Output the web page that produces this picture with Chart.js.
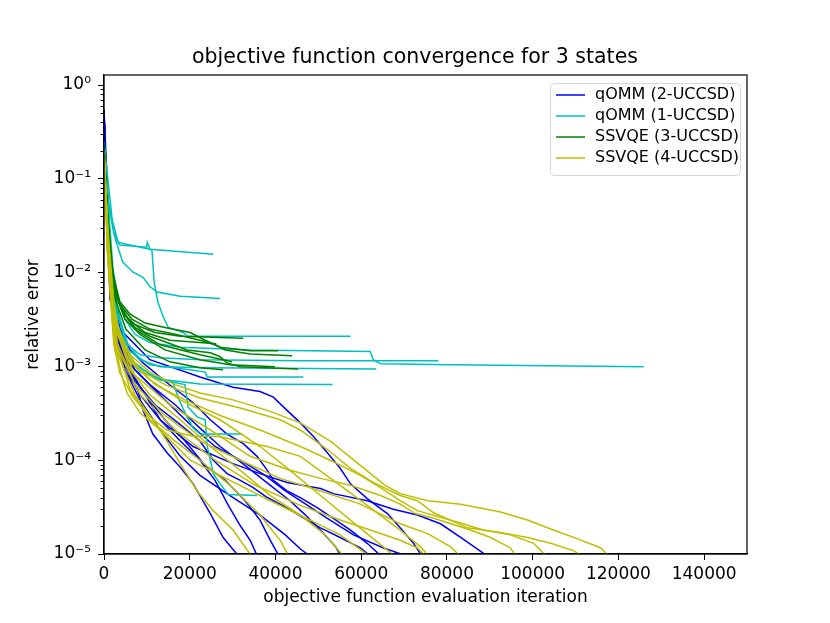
<!DOCTYPE html>
<html>
<head>
<meta charset="utf-8">
<script src="https://cdn.jsdelivr.net/npm/chart.js@4.4.1/dist/chart.umd.min.js"></script>
<style>
  html, body { margin: 0; padding: 0; background: #fff; }
  canvas { display: block; }
</style>
</head>
<body>
<canvas id="convChart" width="830" height="623"></canvas>
<script>
const chartTitle = 'objective function convergence for 3 states';
const methodNames = ['qOMM (2-UCCSD)', 'qOMM (1-UCCSD)', 'SSVQE (3-UCCSD)', 'SSVQE (4-UCCSD)'];
const methodColors = ['#0000ff', '#00bfbf', '#008000', '#bfbf00'];
const xTicks = [0, 20000, 40000, 60000, 80000, 100000, 120000, 140000];
const yRange = [1e-5, 1.28];

// each run is a list of [evaluation, relative error]
const qomm2Runs = [
  [[0,0.55],[500,0.061],[1400,0.0066],[2800,0.0019],[4700,0.00092],[7700,0.0006],[9100,0.00034],[11400,0.00019],[14700,0.00012],[17800,8.4e-5],[20800,5.6e-5],[24800,2.7e-5],[27800,1.5e-5],[31800,9e-6]],
  [[0,0.5],[700,0.037],[1900,0.004],[4200,0.00118],[8400,0.0005],[13100,0.00027],[17800,0.00016],[22400,1e-4],[25900,6.1e-5],[29000,3.3e-5],[31800,2e-5],[34100,1.4e-5],[36000,9e-6]],
  [[0,0.45],[900,0.023],[2300,0.0032],[4900,0.00104],[9600,0.0005],[14200,0.00027],[18900,0.00016],[23600,8.8e-5],[28300,6.1e-5],[32900,3.7e-5],[36400,2.3e-5],[38800,1.4e-5],[41100,9e-6]],
  [[0,0.55],[700,0.029],[2100,0.0032],[4900,0.00118],[10700,0.00064],[16600,0.00039],[22400,0.00022],[27100,0.00014],[32900,8.8e-5],[38800,5.4e-5],[43400,3.7e-5],[47000,2.6e-5],[50500,1.8e-5],[54000,1.2e-5],[55600,9e-6]],
  [[0,0.5],[900,0.023],[2600,0.0032],[6100,0.0015],[9100,0.00109],[14700,0.00067],[20800,0.00041],[24800,0.00027],[28700,0.00019],[32500,0.00015],[35700,0.00011],[38100,7.8e-5],[39500,6.1e-5],[42700,4.7e-5],[45800,4e-5],[49800,3.1e-5],[53500,2.4e-5],[57500,1.8e-5],[61400,1.3e-5],[65200,9e-6]],
  [[0,0.45],[900,0.0178],[2600,0.0025],[6100,0.00081],[11900,0.00039],[17800,0.00024],[22400,0.00016],[25500,1e-4],[28700,7.2e-5],[31800,6.1e-5],[34800,5.1e-5],[38100,4e-5],[42700,3.1e-5],[47400,2.3e-5],[50500,1.9e-5],[55100,1.5e-5],[59800,1.16e-5],[62800,9e-6]],
  [[0,0.55],[1400,0.0178],[3700,0.0025],[10700,0.00118],[22400,0.00077],[30100,0.0006],[36400,0.00054],[39500,0.00047],[42700,0.00034],[45800,0.00025],[48800,0.00018],[52100,0.00012],[55100,8.2e-5],[57500,5.6e-5],[61400,3.9e-5],[66100,2.7e-5],[69100,1.9e-5],[72200,1.3e-5],[74500,9e-6]],
  [[0,0.5],[900,0.029],[2800,0.0025],[7200,0.00092],[14200,0.00044],[20100,0.00024],[25900,0.00014],[31800,1e-4],[37600,6.9e-5],[42300,4.7e-5],[45800,3.7e-5],[52100,2.4e-5],[58200,1.6e-5],[65200,1.16e-5],[72200,9e-6]],
  [[0,0.5],[1400,0.0052],[6100,0.00092],[13100,0.00027],[20800,0.00014],[30100,9.2e-5],[36400,7.2e-5],[42700,5.8e-5],[50500,5e-5],[53500,4.4e-5],[61400,3.7e-5],[67500,3e-5],[73100,2.6e-5],[78500,2.1e-5],[83200,1.5e-5],[90200,9e-6]],
  [[0,0.5],[700,0.037],[2100,0.004],[4900,0.00092],[8400,0.00044],[13100,0.00021],[17800,0.00011],[22400,6.9e-5],[29400,4.2e-5],[36400,2.6e-5],[42300,1.6e-5],[45800,1.13e-5],[48800,9e-6]]
];

const qomm1Runs = [
  [[0,0.25],[700,0.12],[1900,0.037],[3300,0.021],[10700,0.0178],[25500,0.0157]],
  [[0,0.25],[900,0.061],[2600,0.023],[4400,0.0129],[6800,0.0101],[9100,0.0089],[10700,0.0071],[12400,0.0062],[17800,0.0056],[27100,0.0053]],
  [[0,0.22],[900,0.061],[2300,0.026],[3700,0.0197],[10000,0.0187],[10100,0.021],[10700,0.018],[11200,0.017],[11700,0.0079],[12600,0.0048],[13800,0.0034],[15000,0.0026],[18500,0.0023],[19400,0.0021],[57500,0.0021]],
  [[0,0.25],[900,0.061],[2100,0.0109],[3300,0.0052],[4900,0.0032],[7200,0.0022],[10700,0.0018],[17800,0.0016],[34100,0.0015],[62100,0.00144],[62800,0.00118],[64500,0.00107],[80800,0.00104],[125900,0.00099]],
  [[0,0.22],[900,0.048],[2300,0.0066],[3700,0.0032],[5600,0.0017],[8400,0.00133],[13100,0.00124],[22400,0.00118],[45800,0.00115],[78000,0.00115]],
  [[0,0.22],[900,0.037],[2600,0.0052],[4900,0.0019],[8400,0.00118],[13100,0.00099],[24800,0.00097],[63500,0.00094]],
  [[0,0.22],[900,0.029],[2800,0.004],[5600,0.0015],[10700,0.00104],[20100,0.00092],[23600,0.00087],[24100,0.00077],[46500,0.00077]],
  [[0,0.22],[900,0.023],[2800,0.0032],[5100,0.00133],[8400,0.00087],[14200,0.00072],[22400,0.00065],[53300,0.00064]],
  [[0,0.22],[900,0.029],[2800,0.0032],[6100,0.00118],[11900,0.00075],[16100,0.00067],[17800,0.00041],[19400,0.00029],[20800,0.00022],[22400,0.00019],[32200,0.00019]],
  [[0,0.22],[900,0.023],[3300,0.0025],[7200,0.00104],[13100,0.00072],[18900,0.00064],[19600,0.00037],[21700,0.00029],[23600,0.00027],[24100,0.00014],[25500,7.2e-5],[27100,5.6e-5],[29000,4.3e-5],[35700,4.2e-5]]
];

const ssvqe3Runs = [
  [[0,0.22],[700,0.048],[1600,0.0139],[2800,0.0059],[4700,0.0036],[7200,0.0028],[11900,0.0023],[17800,0.0021],[32500,0.002]],
  [[0,0.2],[700,0.042],[1900,0.0109],[3300,0.0052],[5600,0.0032],[9600,0.0023],[15400,0.0019],[26200,0.00175]],
  [[0,0.22],[900,0.037],[2100,0.0085],[3700,0.0046],[6500,0.0032],[10700,0.0025],[16600,0.0022],[22400,0.0019],[25900,0.0017],[28300,0.0015],[34100,0.00136],[43900,0.0013]],
  [[0,0.22],[900,0.037],[2100,0.0096],[3700,0.0049],[6100,0.0036],[9600,0.0029],[14200,0.0026],[20100,0.0023],[23600,0.0019],[27100,0.0016],[34100,0.00147],[40600,0.00147]],
  [[0,0.2],[900,0.033],[2300,0.0075],[4200,0.004],[7200,0.0025],[13100,0.0017],[22400,0.00133],[29900,0.00112]],
  [[0,0.2],[900,0.033],[2300,0.0075],[4200,0.0039],[7200,0.0026],[10700,0.0021],[14700,0.0018],[19400,0.0015],[24800,0.0014],[27100,0.00127],[28700,0.00109],[31800,0.00099],[45300,0.00094]],
  [[0,0.2],[900,0.029],[2600,0.0059],[4900,0.0032],[8400,0.0022],[14200,0.0015],[22400,0.00118],[29400,0.00104],[39900,0.00099]],
  [[0,0.2],[900,0.026],[2600,0.0052],[5100,0.0025],[9600,0.0015],[15400,0.00112],[22400,0.00097],[27800,0.00092]]
];

const ssvqe4Runs = [
  [[0,0.2],[500,0.061],[1400,0.0085],[3300,0.0025],[6100,0.00133],[10700,0.00087],[16600,0.00064],[22400,0.00052],[30100,0.00044],[38100,0.00034],[45800,0.00025],[52800,0.00016],[59800,8.8e-5],[65600,5.4e-5],[69100,4.4e-5],[75500,3.7e-5],[83200,3.4e-5],[92500,2.8e-5],[98800,2.3e-5],[104200,1.85e-5],[110500,1.45e-5],[115900,1.16e-5],[118200,9e-6]],
  [[0,0.18],[700,0.037],[1900,0.0052],[4200,0.0017],[8400,0.00092],[14200,0.00064],[22400,0.00046],[31800,0.00036],[41100,0.00027],[45800,0.00021],[52100,0.00013],[57500,8.2e-5],[62800,5.8e-5],[69100,4.2e-5],[73100,3.7e-5],[76900,2.75e-5],[80800,2.3e-5],[84800,1.9e-5],[92500,1.7e-5],[98800,1.5e-5],[104200,1.3e-5],[109600,1.08e-5],[112400,9e-6]],
  [[0,0.18],[900,0.029],[2600,0.0032],[6100,0.00118],[11900,0.00064],[18900,0.00044],[27100,0.0003],[36400,0.00021],[45800,0.00014],[52800,1e-4],[59800,6.9e-5],[64500,5.1e-5],[69100,3.7e-5],[73100,2.9e-5],[80800,2.3e-5],[88500,1.8e-5],[94800,1.6e-5],[100200,1.3e-5],[103700,9e-6]],
  [[0,0.2],[900,0.023],[2600,0.0025],[7200,0.00081],[15400,0.00039],[24800,0.00021],[34100,0.00011],[43400,7.8e-5],[50500,6.4e-5],[57500,5.4e-5],[64500,4.2e-5],[69100,3.4e-5],[72600,2.7e-5],[76900,2.4e-5],[84800,1.85e-5],[90200,1.5e-5],[94800,1.16e-5],[96500,9e-6]],
  [[0,0.18],[900,0.0178],[2800,0.0019],[7200,0.00064],[14200,0.0003],[22400,0.00016],[31800,1e-4],[41100,6.4e-5],[50500,4.7e-5],[59800,3.4e-5],[69100,2.1e-5],[75500,1.65e-5],[80800,1.2e-5],[83600,9e-6]],
  [[0,0.18],[900,0.0139],[3300,0.0015],[8400,0.0005],[16600,0.00021],[25900,1e-4],[35300,5.4e-5],[45800,3.3e-5],[55100,2.3e-5],[62100,1.8e-5],[69100,1.4e-5],[73100,1.16e-5],[75500,9e-6]],
  [[0,0.2],[700,0.029],[2300,0.0032],[5600,0.00118],[10700,0.00072],[17800,0.00044],[27100,0.00027],[36400,0.00014],[43400,7.8e-5],[50500,4.2e-5],[57500,2.3e-5],[63300,1.4e-5],[68400,9e-6]],
  [[0,0.18],[900,0.0139],[2800,0.0015],[7200,0.0005],[13100,0.00021],[20100,1e-4],[29400,6.1e-5],[38800,3.7e-5],[48100,2.3e-5],[55100,1.6e-5],[62600,9e-6]],
  [[0,0.18],[900,0.0139],[2300,0.0019],[4400,0.00072],[5400,0.00052],[8400,0.00032],[13100,0.00021],[17800,9.2e-5],[21700,4.7e-5],[25500,2.9e-5],[30100,1.8e-5],[34800,9e-6]],
  [[0,0.18],[900,0.0178],[2600,0.0019],[6100,0.00056],[10700,0.00027],[16600,0.00016],[22400,1e-4],[29400,5.4e-5],[36400,2.6e-5],[41100,1.4e-5],[43400,9e-6]],
  [[0,0.2],[900,0.023],[2800,0.0025],[6100,0.00092],[10700,0.0005],[17800,0.00027],[24800,0.00014],[31800,7.8e-5],[38800,4.2e-5],[45800,2.6e-5],[51600,1.6e-5],[56300,9e-6]],
  [[0,0.18],[900,0.0139],[2300,0.0017],[3700,0.00085],[6800,0.00047],[10700,0.00029],[14700,0.00021],[20800,0.00018],[26400,0.00018],[31800,0.00016],[38100,0.00014],[45800,0.00011],[53500,6.1e-5],[61400,3.3e-5],[69100,1.8e-5],[73800,1.2e-5],[76200,9e-6]]
];

const allRuns = [qomm2Runs, qomm1Runs, ssvqe3Runs, ssvqe4Runs];
const FONT = 'DejaVu Sans';

const sup = { '0': '\u2070', '1': '\u00b9', '2': '\u00b2', '3': '\u00b3', '4': '\u2074', '5': '\u2075', '-': '\u207b' };
function isDecade(v) {
  const e = Math.log10(v);
  return Math.abs(e - Math.round(e)) < 1e-9;
}
function decadeLabel(v) {
  const e = String(Math.round(Math.log10(v)));
  return '10' + e.split('').map(c => sup[c]).join('');
}

// log ticks: 1..9 x 10^k, labels only on the decades
function logTicks() {
  const ticks = [];
  for (let e = -5; e <= 0; e++) {
    for (let k = 1; k <= 9; k++) {
      const v = k * Math.pow(10, e);
      if (v <= yRange[1]) ticks.push({ value: v });
    }
  }
  return ticks;
}

const datasets = [];
allRuns.forEach((runs, g) => {
  runs.forEach(run => {
    datasets.push({
      label: methodNames[g],
      data: run.map(p => ({ x: p[0], y: p[1] })),
      borderColor: methodColors[g],
      borderWidth: 1.5,
      pointRadius: 0,
      tension: 0,
      fill: false,
      order: 4 - g
    });
  });
});

// figure title, centred on the canvas
const figTitle = {
  id: 'figTitle',
  afterDraw(chart) {
    const { ctx, chartArea } = chart;
    ctx.save();
    ctx.font = '20.5px "' + FONT + '"';
    ctx.fillStyle = '#000';
    ctx.textAlign = 'center';
    ctx.textBaseline = 'alphabetic';
    ctx.fillText(chartTitle, chart.width / 2, chartArea.top - 12);
    ctx.restore();
  }
};

const frameAndMinor = {
  id: 'frameAndMinor',
  afterDraw(chart) {
    const { ctx, chartArea } = chart;
    const y = chart.scales.y;
    ctx.save();
    ctx.strokeStyle = '#000';
    ctx.lineWidth = 1;
    y.ticks.forEach(t => {
      if (isDecade(t.value)) return;
      const py = Math.round(y.getPixelForValue(t.value)) + 0.5;
      ctx.beginPath();
      ctx.moveTo(chartArea.left, py);
      ctx.lineTo(chartArea.left - 3.5, py);
      ctx.stroke();
    });
    ctx.lineWidth = 1.2;
    ctx.strokeRect(chartArea.left, chartArea.top, chartArea.right - chartArea.left, chartArea.bottom - chartArea.top);
    ctx.restore();
  }
};

const legendBox = {
  id: 'legendBox',
  afterDraw(chart) {
    const { ctx, chartArea } = chart;
    const w = 190, h = 92;
    const x = chartArea.right - w - 7, y = chartArea.top + 8;
    ctx.save();
    ctx.beginPath();
    ctx.roundRect(x + 0.5, y + 0.5, w, h, 4);
    ctx.fillStyle = 'rgba(255,255,255,0.8)';
    ctx.fill();
    ctx.strokeStyle = '#d6d6d6';
    ctx.lineWidth = 1;
    ctx.stroke();
    ctx.font = '16px "' + FONT + '"';
    ctx.textBaseline = 'middle';
    ctx.fillStyle = '#000';
    methodNames.forEach((name, i) => {
      const ry = y + 12 + i * 21;
      ctx.strokeStyle = methodColors[i];
      ctx.lineWidth = 1.5;
      ctx.beginPath();
      ctx.moveTo(x + 6, ry);
      ctx.lineTo(x + 35, ry);
      ctx.stroke();
      ctx.fillText(name, x + 45, ry);
    });
    ctx.restore();
  }
};

new Chart(document.getElementById('convChart').getContext('2d'), {
  type: 'line',
  data: { datasets: datasets },
  options: {
    responsive: false,
    animation: false,
    devicePixelRatio: 1,
    layout: { padding: { left: 0, right: 83, top: 75, bottom: 0 } },
    plugins: {
      legend: { display: false },
      tooltip: { enabled: false },
      title: { display: false }
    },
    scales: {
      x: {
        type: 'linear',
        min: 0,
        max: 150000,
        afterBuildTicks: s => { s.ticks = xTicks.map(v => ({ value: v })); },
        afterFit: s => { s.height = 69; },
        grid: { drawOnChartArea: false, tickLength: 6, tickColor: '#000', tickWidth: 1 },
        border: { display: true, color: '#000', width: 1.2 },
        ticks: {
          color: '#000',
          font: { family: FONT, size: 17 },
          padding: 4,
          maxRotation: 0,
          autoSkip: false,
          callback: v => String(v)
        },
        title: {
          display: true,
          text: 'objective function evaluation iteration',
          color: '#000',
          font: { family: FONT, size: 17 },
          padding: { top: 0, bottom: 15 }
        }
      },
      y: {
        type: 'logarithmic',
        min: yRange[0],
        max: yRange[1],
        afterBuildTicks: s => { s.ticks = logTicks(); },
        afterFit: s => { s.width = 104; },
        grid: {
          drawOnChartArea: false,
          tickLength: 6,
          tickWidth: 1,
          tickColor: c => (c.tick && isDecade(c.tick.value)) ? '#000' : 'rgba(0,0,0,0)'
        },
        border: { display: true, color: '#000', width: 1.2 },
        ticks: {
          color: '#000',
          font: { family: FONT, size: 17 },
          padding: 7,
          autoSkip: false,
          callback: v => isDecade(v) ? decadeLabel(v) : ''
        },
        title: {
          display: true,
          text: 'relative error',
          color: '#000',
          font: { family: FONT, size: 17 },
          padding: { top: 23, bottom: 0 }
        }
      }
    }
  },
  plugins: [figTitle, frameAndMinor, legendBox]
});
</script>
</body>
</html>
